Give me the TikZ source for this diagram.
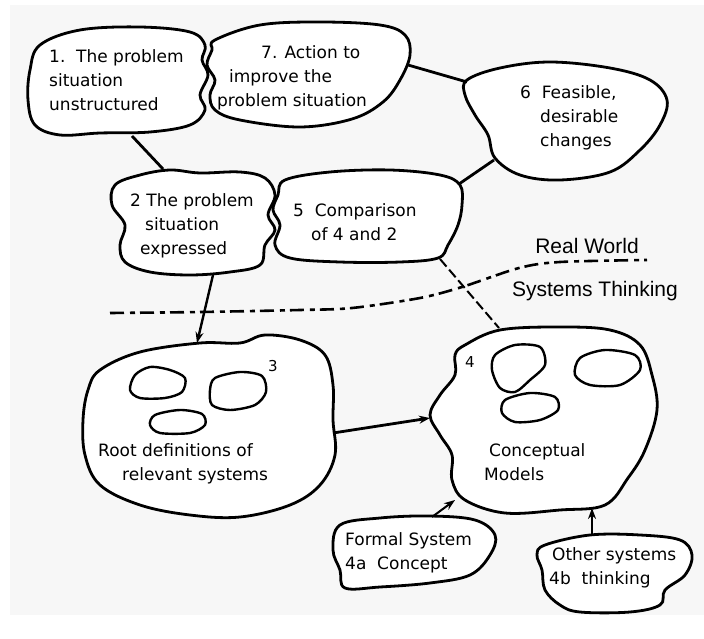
\documentclass[tikz,border=0pt]{standalone}
\usepackage{fontspec}
\setmainfont{DejaVu Sans}
\newfontfamily\labelfont{Liberation Sans}
\usetikzlibrary{arrows.meta,positioning}

\begin{document}
\begin{tikzpicture}[x=1pt,y=-1pt,
    blob/.style={draw,line width=2.8pt,fill=white},
    subblob/.style={draw,line width=2.4pt,fill=white},
    txt/.style={anchor=north west,align=left,inner sep=0pt,font=\fontsize{17}{24}\selectfont},
    link/.style={line width=2.8pt},
    >={Stealth[length=11pt,width=8pt]}]
    \useasboundingbox (0,0) rectangle (704,639);
    \fill[gray!6] (10,5) rectangle (704,615);

    % the clouds
    \draw[blob] plot[smooth cycle,tension=0.6] coordinates {(215,40) (260,25) (320,22) (380,25) (405,35) (410,55) (400,80) (383,102) (352,119) (300,127) (240,120) (215,110) (210,95) (215,80) (207,65) (212,50)};
    \draw[blob] plot[smooth cycle,tension=0.6] coordinates {(40,45) (80,30) (140,27) (190,32) (205,45) (202,60) (208,75) (200,95) (205,110) (190,125) (150,132) (100,133) (60,135) (35,125) (28,100) (30,70)};
    \draw[blob] plot[smooth cycle,tension=0.6] coordinates {(467,80) (500,68) (550,62) (610,68) (650,80) (667,100) (660,125) (640,150) (610,172) (560,180) (520,175) (495,158) (488,135) (475,115) (465,95)};
    \draw[blob] plot[smooth cycle,tension=0.6] coordinates {(115,185) (140,175) (170,170) (200,173) (240,172) (265,178) (275,195) (268,215) (275,230) (265,245) (260,265) (230,272) (190,275) (150,272) (125,262) (120,245) (125,225) (112,205)};
    \draw[blob] plot[smooth cycle,tension=0.6] coordinates {(285,180) (330,172) (390,170) (440,175) (460,185) (462,205) (458,225) (448,245) (438,258) (400,262) (340,262) (290,258) (275,245) (280,225) (273,210) (278,195)};
    \draw[blob] plot[smooth cycle,tension=0.6] coordinates {(100,370) (140,352) (200,343) (240,343) (265,335) (300,340) (325,355) (333,385) (333,420) (335,455) (320,485) (290,505) (240,517) (190,515) (140,505) (100,485) (85,455) (83,420) (88,390)};
    \draw[blob] plot[smooth cycle,tension=0.6] coordinates {(465,345) (500,330) (560,327) (610,330) (640,345) (652,375) (657,410) (645,450) (628,478) (605,505) (560,510) (505,513) (465,500) (452,480) (452,455) (440,435) (430,415) (440,395) (455,375) (455,355)};
    \draw[blob] plot[smooth cycle,tension=0.6] coordinates {(340,525) (380,518) (430,516) (475,520) (495,535) (490,555) (470,575) (430,583) (380,587) (345,588) (340,570) (333,550)};
    \draw[blob] plot[smooth cycle,tension=0.6] coordinates {(545,545) (590,535) (640,535) (680,540) (692,555) (685,575) (665,590) (660,605) (630,612) (580,612) (560,605) (545,590) (542,570) (537,555)};

    % little systems inside 3 and 4
    \draw[subblob] plot[smooth cycle] coordinates {(135,375) (150,367) (170,370) (185,378) (182,392) (165,398) (140,398) (130,390)};
    \draw[subblob] plot[smooth cycle] coordinates {(215,378) (240,372) (262,376) (266,392) (255,405) (230,410) (212,405) (210,390)};
    \draw[subblob] plot[smooth cycle] coordinates {(155,415) (180,410) (202,414) (205,425) (190,433) (160,433) (150,425)};
    \draw[subblob] plot[smooth cycle] coordinates {(495,355) (515,345) (540,347) (545,365) (530,380) (515,392) (500,388) (492,370)};
    \draw[subblob] plot[smooth cycle] coordinates {(580,358) (605,350) (635,355) (640,370) (620,385) (590,385) (575,375)};
    \draw[subblob] plot[smooth cycle] coordinates {(505,400) (530,393) (555,397) (558,410) (540,420) (515,422) (502,413)};

    % texts
    \node[txt] (Unstructured) at (49,49) {1.\ \ The problem\\situation\\unstructured};
    \node[txt] (Action) at (217,45) {\hspace*{44pt}7. Action to\\\hspace*{12pt}improve the\\problem situation};
    \node[txt] (Changes) at (520,85) {6\ \ Feasible,\\\hspace*{20pt}desirable\\\hspace*{20pt}changes};
    \node[txt] (Expressed) at (130,193) {2 The problem\\\hspace*{15pt}situation\\\hspace*{10pt}expressed};
    \node[txt] (Comparison) at (293,203) {5\ \ Comparison\\\hspace*{18pt}of 4 and 2};
    \node[txt] (RootDefs) at (98,443) {Root definitions of\\\hspace*{24pt}relevant systems};
    \node[txt] (Conceptual) at (484,443) {\hspace*{5pt}Conceptual\\Models};
    \node[txt] (FormalSystem) at (345,532) {Formal System\\4a\ \ Concept};
    \node[txt] (OtherSystems) at (549,547) {\hspace*{3pt}Other systems\\4b\ \ thinking};
    \node[font=\fontsize{15}{15}\selectfont] (NumThree) at (273,366) {3};
    \node[font=\fontsize{15}{15}\selectfont] (NumFour) at (470,362) {4};
    \node[font=\labelfont\fontsize{21}{21}\selectfont] (RealWorld) at (587,246) {Real World};
    \node[font=\labelfont\fontsize{21}{21}\selectfont] (SysThinking) at (595,291) {Systems Thinking};

    % boundary between the two worlds
    \draw[line width=2.6pt,dash pattern=on 14pt off 6pt on 5pt off 5pt]
        plot[smooth] coordinates {(110,313) (200,312) (300,310) (352,308) (420,298) (462,287) (519,268) (560,262) (647,260)};

    % ends of the connectors
    \coordinate (UnstrFoot) at (132,136);
    \coordinate (ExprTop) at (163,169);
    \coordinate (ActionRight) at (408,65);
    \coordinate (ChangesLeft) at (467,82);
    \coordinate (ChangesFoot) at (494,160);
    \coordinate (CompTop) at (459,184);
    \coordinate (CompFoot) at (440,259);
    \coordinate (ModelsTop) at (499,328);
    \coordinate (ExprFoot) at (213,275);
    \coordinate (RootTop) at (197,343);
    \coordinate (RootRight) at (333,433);
    \coordinate (ModelsLeft) at (430,418);
    \coordinate (FormalTop) at (432,517);
    \coordinate (ModelsCorner) at (455,500);
    \coordinate (OtherTop) at (592,535);
    \coordinate (ModelsFoot) at (592,508);

    \path[link]
    (UnstrFoot) edge (ExprTop)
    (ActionRight) edge (ChangesLeft)
    (ChangesFoot) edge (CompTop)
    (CompFoot) edge[line width=2pt,dash pattern=on 10pt off 4pt] (ModelsTop)
    (ExprFoot) edge[->,line width=2.4pt] (RootTop)
    (RootRight) edge[->] (ModelsLeft)
    (FormalTop) edge[->,line width=2pt] (ModelsCorner)
    (OtherTop) edge[->] (ModelsFoot);
\end{tikzpicture}
\end{document}
